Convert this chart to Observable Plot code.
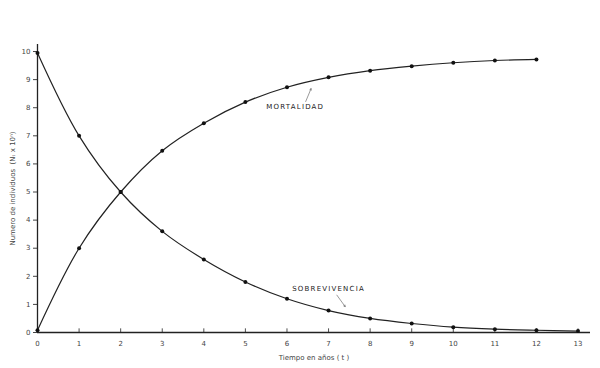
<!DOCTYPE html>
<html>
<head>
<meta charset="utf-8">
<script src="https://cdn.jsdelivr.net/npm/d3@7"></script>
<script src="https://cdn.jsdelivr.net/npm/@observablehq/plot@0.6"></script>
<style>
  html, body { margin: 0; padding: 0; background: #fff; }
  #chart svg { display: block; }
  .series-label text { letter-spacing: 1.2px; }
</style>
</head>
<body>
<div id="chart"></div>
<script>
const years = [0, 1, 2, 3, 4, 5, 6, 7, 8, 9, 10, 11, 12, 13];
const sobrevivencia = [9.95, 7.0, 5.0, 3.6, 2.6, 1.8, 1.2, 0.78, 0.5, 0.32, 0.19, 0.12, 0.08, 0.05];
const mortalidadYears = [0, 1, 2, 3, 4, 5, 6, 7, 8, 9, 10, 11, 12];
const mortalidad = [0.08, 3.0, 5.0, 6.47, 7.45, 8.2, 8.73, 9.08, 9.32, 9.48, 9.6, 9.68, 9.72];
const xTicks = [0, 1, 2, 3, 4, 5, 6, 7, 8, 9, 10, 11, 12, 13];
const yTicks = [0, 1, 2, 3, 4, 5, 6, 7, 8, 9, 10];
const seriesLabels = ["MORTALIDAD", "SOBREVIVENCIA"];
const labelX = [6.2, 7.0];
const labelY = [8.04, 1.57];
const arrowFrom = [[6.45, 8.22], [7.2, 1.33]];
const arrowTo = [[6.58, 8.68], [7.4, 0.92]];

const surv = years.map((t, i) => ({t, v: sobrevivencia[i]}));
const mort = mortalidadYears.map((t, i) => ({t, v: mortalidad[i]}));
const labels = seriesLabels.map((s, i) => ({s, x: labelX[i], y: labelY[i]}));
const arrows = arrowFrom.map((a, i) => ({x1: a[0], y1: a[1], x2: arrowTo[i][0], y2: arrowTo[i][1]}));

const ink = "#222";
const chart = Plot.plot({
  width: 600,
  height: 368,
  marginLeft: 37,
  marginRight: 10,
  marginTop: 44,
  marginBottom: 36,
  style: {fontFamily: "DejaVu Sans", fontSize: "7px", color: "#444", background: "#fff"},
  x: {domain: [0, 13.3]},
  y: {domain: [0, 10.25]},
  marks: [
    Plot.axisY({ticks: yTicks, tickSize: 4, tickPadding: 3, tickFormat: d => String(d),
      label: "Numero de individuos  (Nₜ x 10ⁿ)", labelAnchor: "center", labelOffset: 27, labelArrow: "none"}),
    Plot.axisX({ticks: xTicks, tickSize: 0, tickPadding: 9, tickFormat: d => String(d),
      label: "Tiempo en años ( t )", labelAnchor: "center", labelOffset: 27, labelArrow: "none"}),
    Plot.ruleX(xTicks, {x: d => d, y1: 0, y2: 0.13, stroke: ink, strokeWidth: 0.8}),
    Plot.ruleX([0], {stroke: ink, strokeWidth: 1.3}),
    Plot.ruleY([0], {stroke: ink, strokeWidth: 1.3}),
    Plot.line(surv, {x: "t", y: "v", curve: "catmull-rom", stroke: ink, strokeWidth: 1.2}),
    Plot.line(mort, {x: "t", y: "v", curve: "catmull-rom", stroke: ink, strokeWidth: 1.2}),
    Plot.dot(surv, {x: "t", y: "v", r: 2, fill: "#111"}),
    Plot.dot(mort, {x: "t", y: "v", r: 2, fill: "#111"}),
    Plot.arrow(arrows, {x1: "x1", y1: "y1", x2: "x2", y2: "y2", stroke: "#555", strokeWidth: 0.6, headLength: 4}),
    Plot.text(labels, {x: "x", y: "y", text: "s", fill: "#222", fontSize: 7, className: "series-label"})
  ]
});
document.getElementById("chart").appendChild(chart);
</script>
</body>
</html>
